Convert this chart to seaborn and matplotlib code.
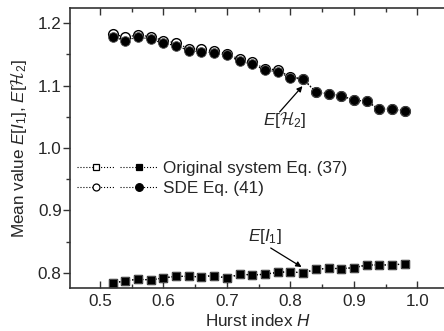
import matplotlib
matplotlib.use("Agg")
import matplotlib.pyplot as plt
from matplotlib.lines import Line2D
from matplotlib.legend_handler import HandlerTuple
from matplotlib.ticker import MultipleLocator, FormatStrFormatter
import pandas as pd
import seaborn as sns

# Hurst index values
hurst = [0.52, 0.54, 0.56, 0.58, 0.60, 0.62, 0.64, 0.66, 0.68, 0.70, 0.72, 0.74,
         0.76, 0.78, 0.80, 0.82, 0.84, 0.86, 0.88, 0.90, 0.92, 0.94, 0.96, 0.98]

# E[I1]: original system Eq. (37) and SDE Eq. (41)
i1_original = [0.7835, 0.7877, 0.7900, 0.7890, 0.7920, 0.7947, 0.7945, 0.7940,
               0.7960, 0.7915, 0.7984, 0.7968, 0.7980, 0.8010, 0.8020, 0.8000,
               0.8060, 0.8075, 0.8070, 0.8085, 0.8128, 0.8128, 0.8130, 0.8144]
i1_sde = [0.7835, 0.7877, 0.7900, 0.7890, 0.7920, 0.7947, 0.7945, 0.7940,
          0.7960, 0.7915, 0.7984, 0.7968, 0.7980, 0.8010, 0.8020, 0.8000,
          0.8060, 0.8075, 0.8070, 0.8085, 0.8128, 0.8128, 0.8130, 0.8144]

# E[H2]: original system Eq. (37) and SDE Eq. (41)
h2_original = [1.183, 1.177, 1.181, 1.178, 1.172, 1.168, 1.159, 1.158, 1.155,
               1.151, 1.142, 1.137, 1.127, 1.125, 1.114, 1.111, 1.0896, 1.0864,
               1.0837, 1.0768, 1.0747, 1.0620, 1.0624, 1.0592]
h2_sde = [1.178, 1.1717, 1.178, 1.174, 1.1675, 1.164, 1.1557, 1.154, 1.1525,
          1.1488, 1.139, 1.134, 1.1248, 1.122, 1.1125, 1.110, 1.0896, 1.0864,
          1.0837, 1.0768, 1.0747, 1.0620, 1.0624, 1.0592]

legend_labels = ["Original system Eq. (37)", "SDE Eq. (41)"]

df = pd.DataFrame({"H": hurst, "i1_orig": i1_original, "i1_sde": i1_sde,
                   "h2_orig": h2_original, "h2_sde": h2_sde})

sns.set_theme(style="ticks")
plt.rcParams["font.family"] = ["Liberation Sans", "DejaVu Sans"]
plt.rcParams["mathtext.fontset"] = "custom"
plt.rcParams["mathtext.rm"] = "Liberation Sans"
plt.rcParams["mathtext.it"] = "Liberation Sans:italic"
plt.rcParams["mathtext.bf"] = "Liberation Sans:bold"
plt.rcParams["mathtext.cal"] = "cmsy10"
FS = 12.3

fig = plt.figure(figsize=(4.44, 3.31), dpi=100)
ax = fig.add_axes([70 / 444, 1 - 288 / 331, 376 / 444, 280 / 331])

line_kw = dict(color="black", linestyle=":", linewidth=0.9, ax=ax, legend=False)

# open markers first, filled on top
sns.lineplot(data=df, x="H", y="i1_orig", marker="s", markersize=5.8,
             markerfacecolor="white", markeredgecolor="black", markeredgewidth=1, **line_kw)
sns.lineplot(data=df, x="H", y="h2_orig", marker="o", markersize=7,
             markerfacecolor="white", markeredgecolor="black", markeredgewidth=1, **line_kw)
sns.lineplot(data=df, x="H", y="i1_sde", marker="s", markersize=5.8,
             markerfacecolor="black", markeredgecolor="#555555", markeredgewidth=0.6, **line_kw)
sns.lineplot(data=df, x="H", y="h2_sde", marker="o", markersize=7,
             markerfacecolor="black", markeredgecolor="#555555", markeredgewidth=0.6, **line_kw)

ax.set_xlim(0.453, 1.045)
ax.set_ylim(0.776, 1.224)

ax.xaxis.set_major_locator(MultipleLocator(0.1))
ax.xaxis.set_minor_locator(MultipleLocator(0.05))
ax.yaxis.set_major_locator(MultipleLocator(0.1))
ax.yaxis.set_minor_locator(MultipleLocator(0.05))
ax.xaxis.set_major_formatter(FormatStrFormatter("%.1f"))
ax.yaxis.set_major_formatter(FormatStrFormatter("%.1f"))

spine_c = "#333333"
for side in ["left", "top", "bottom"]:
    ax.spines[side].set_color(spine_c)
    ax.spines[side].set_linewidth(1.2)
ax.spines["right"].set_visible(False)

ax.tick_params(axis="x", which="both", direction="in", top=True, bottom=True,
               color=spine_c, labelsize=FS, pad=4)
ax.tick_params(axis="x", which="major", length=5, width=1)
ax.tick_params(axis="x", which="minor", length=3, width=1)
ax.tick_params(axis="y", which="both", direction="out", left=True, right=False,
               color=spine_c, labelsize=FS, pad=1)
ax.tick_params(axis="y", which="major", length=5, width=1)
ax.tick_params(axis="y", which="minor", length=3, width=1)

ax.set_xlabel("Hurst index $H$", fontsize=FS, labelpad=3)
ax.set_ylabel(r"Mean value $E[I_1]$, $E[\mathcal{H}_2]$", fontsize=FS, labelpad=6)

# annotations
arrow_kw = dict(arrowstyle="-|>", color="black", lw=0.9, mutation_scale=8,
                shrinkA=0, shrinkB=0)
ax.annotate("", xy=(0.819, 1.099), xytext=(0.783, 1.0576), arrowprops=arrow_kw)
ax.text(0.791, 1.045, r"$E[\mathcal{H}_2]$", fontsize=FS, ha="center", va="center")
ax.annotate("", xy=(0.8176, 0.8096), xytext=(0.769, 0.840), arrowprops=arrow_kw)
ax.text(0.7594, 0.8576, r"$E[I_1]$", fontsize=FS, ha="center", va="center")

# legend: open / filled marker pairs per row
def handle(marker, face, ms):
    return Line2D([], [], color="black", linestyle=":", linewidth=0.8, marker=marker,
                  markersize=ms, markerfacecolor=face, markeredgecolor="black",
                  markeredgewidth=0.9)

handles = [(handle("s", "white", 4.5), handle("s", "black", 4.5)),
           (handle("o", "white", 5), handle("o", "black", 5.5))]
fig.legend(handles, legend_labels, handler_map={tuple: HandlerTuple(ndivide=None, pad=0.35)},
           loc="center left", bbox_to_anchor=(77 / 444, 1 - 178.5 / 331),
           bbox_transform=fig.transFigure, frameon=False, fontsize=FS,
           handlelength=4.7, handletextpad=0.35, borderpad=0, borderaxespad=0,
           labelspacing=0.25)

fig.savefig("out.png", dpi=100)
